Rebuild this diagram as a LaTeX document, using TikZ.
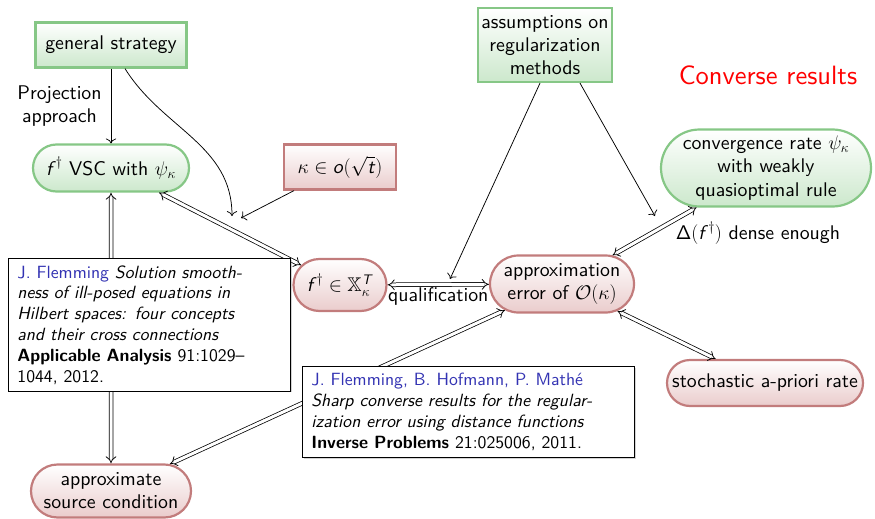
\documentclass[tikz,border=0pt]{standalone}
\usepackage{fix-cm}
\usepackage{amsmath,amssymb}
\usepackage{fontspec}
\setsansfont{lmsans10-regular.otf}[BoldFont=lmsans10-bold.otf, ItalicFont=lmsans10-oblique.otf, BoldItalicFont=lmsans10-boldoblique.otf]
\usetikzlibrary{shapes.misc,arrows.meta,shadows,calc}
\definecolor{gborder}{RGB}{134,199,134}
\definecolor{gfill}{RGB}{204,232,204}
\definecolor{rborder}{RGB}{194,124,124}
\definecolor{rfill}{RGB}{234,204,204}
\definecolor{citeblue}{RGB}{51,51,179}
\newcommand{\sv}[1]{\text{\itshape #1\/}}
\newcommand{\sfDelta}{\text{\fontencoding{OT1}\fontfamily{cmss}\fontshape{n}\selectfont\char1}}
\tikzset{
  base/.style={line width=2.2pt, align=center, inner sep=3pt},
  gbox/.style={base, rectangle, draw=gborder, top color=white, bottom color=gfill},
  ground/.style={base, rounded rectangle, draw=gborder, top color=white, bottom color=gfill},
  rbox/.style={base, rectangle, draw=rborder, top color=white, bottom color=rfill},
  rround/.style={base, rounded rectangle, draw=rborder, top color=white, bottom color=rfill},
  onearrow/.style={line width=0.75pt, -{To[scale=1.5]}},
  dblarrow/.style={line width=0.75pt, double, double distance=3pt, {Implies}-{Implies}},
  citebox/.style={rectangle, draw=black, line width=0.8pt, fill=white, align=left,
    inner xsep=9pt, inner ysep=7pt, font=\sffamily\fontsize{17.7}{20.8}\selectfont,
    drop shadow={shadow xshift=1.2pt, shadow yshift=-1.2pt, opacity=0.35}},
  lbl/.style={inner sep=1pt, align=center}
}
\begin{document}
\begin{tikzpicture}[x=1pt,y=-1pt, font=\sffamily\fontsize{19.8}{23.2}\selectfont]
\useasboundingbox (0,0) rectangle (875,519);

% nodes
\node[gbox, minimum width=151pt, minimum height=45pt] (gs) at (111,45) {general strategy};
\node[ground, minimum width=162pt, minimum height=47pt] (vsc) at (111,168) {$\sv{f}^\dagger$ VSC with $\psi_\kappa$};
\node[rbox, minimum width=112pt, minimum height=45pt] (kap) at (340,167) {$\kappa\in\sv{o}(\sqrt{\sv{t}})$};
\node[rround, minimum width=99pt, minimum height=52pt] (fdag) at (340,285) {$\sv{f}^\dagger\in\mathbb{X}_\kappa^{\sv{T}}$};
\node[rround, minimum width=150pt, minimum height=57pt] (apx) at (562,284) {approximation\\error of $\mathcal{O}(\kappa)$};
\node[gbox, minimum width=111pt, minimum height=74pt] (asm) at (545,45) {assumptions on\\regularization\\methods};
\node[ground, minimum width=216pt, minimum height=77pt] (conv) at (766,168) {convergence rate $\psi_\kappa$\\with weakly\\quasioptimal rule};
\node[rround, minimum width=202pt, minimum height=46pt] (sto) at (765,383) {stochastic a-priori rate};
\node[rround, minimum width=166pt, minimum height=53pt] (src) at (111,491) {approximate\\source condition};
\node[text=red, font=\sffamily\fontsize{26.5}{31}\selectfont] (title) at (768,75) {Converse results};

% free ends
\coordinate (m1) at (232,216);
\coordinate (m2) at (241,218);
\coordinate (m3) at (450,279);
\coordinate (m4) at (655,216);

% connectors
\draw[onearrow] (gs.south) -- node[lbl, anchor=east, xshift=-8pt] (proj) {Projection\\approach} (vsc.north);
\draw[onearrow] ([xshift=14pt]gs.south) to[out=-58, in=90] (m1);
\draw[onearrow] ([xshift=-46pt]kap.south) -- (m2);
\draw[dblarrow] (vsc) -- (fdag);
\draw[dblarrow] (vsc) -- (src);
\draw[dblarrow] (fdag) -- node[lbl, below=2pt] (qual) {qualification} (apx);
\draw[onearrow] ([xshift=-5pt]asm.south) -- (m3);
\draw[onearrow] ([xshift=35pt]asm.south) -- (m4);
\draw[dblarrow] (apx) -- (conv);
\draw[dblarrow] (apx) -- (sto);
\draw[dblarrow] (apx) -- (src);
\node[lbl] (dense) at (758,233) {$\sfDelta(\sv{f}^\dagger)$ dense enough};

% citation boxes
\node[citebox, anchor=north west, text width=264pt] (cite1) at (8,258) {%
{\color{citeblue}J. Flemming} \textit{Solution smooth-}\\
\textit{ness of ill-posed equations in}\\
\textit{Hilbert spaces: four concepts}\\
\textit{and their cross connections}\\
\textbf{Applicable Analysis} 91:1029--\\
1044, 2012.};
\node[citebox, anchor=north west, text width=314pt] (cite2) at (302,366) {%
{\color{citeblue}J. Flemming, B. Hofmann, P. Math\'e}\\
\textit{Sharp converse results for the regular-}\\
\textit{ization error using distance functions}\\
\textbf{Inverse Problems} 21:025006, 2011.};
\end{tikzpicture}
\end{document}
